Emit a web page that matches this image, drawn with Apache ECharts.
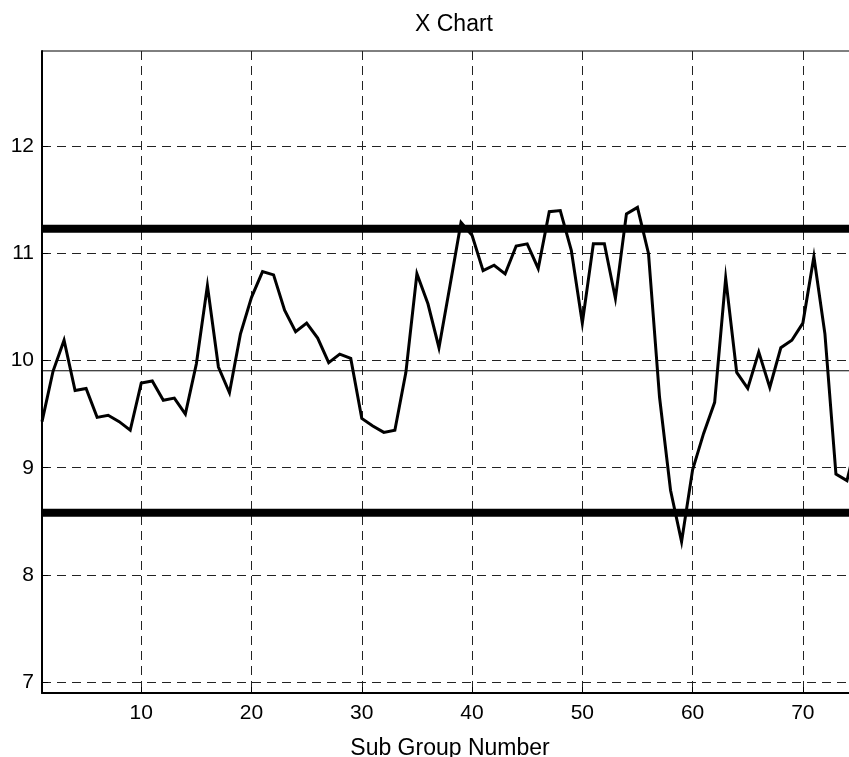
<!DOCTYPE html>
<html>
<head>
<meta charset="utf-8">
<title>X Chart</title>
<script src="https://cdn.jsdelivr.net/npm/echarts@6/dist/echarts.min.js"></script>
<style>
  html, body { margin: 0; padding: 0; background: #fff; }
  #chart { width: 849px; height: 757px; }
</style>
</head>
<body>
<div id="chart"></div>
<script>
// Subgroup means for the X-bar control chart
const xbar = [
  9.43, 9.90, 10.19, 9.72, 9.74, 9.47, 9.49, 9.43, 9.35, 9.79,
  9.81, 9.63, 9.65, 9.50, 9.97, 10.70, 9.94, 9.70, 10.25, 10.59,
  10.83, 10.80, 10.47, 10.27, 10.35, 10.21, 9.98, 10.06, 10.02, 9.46,
  9.39, 9.33, 9.35, 9.89, 10.81, 10.53, 10.12, 10.70, 11.29, 11.17,
  10.84, 10.89, 10.81, 11.07, 11.09, 10.86, 11.39, 11.40, 11.03, 10.35,
  11.09, 11.09, 10.58, 11.37, 11.43, 11.00, 9.66, 8.79, 8.31, 8.98,
  9.32, 9.61, 10.77, 9.89, 9.74, 10.08, 9.75, 10.12, 10.19, 10.35,
  10.97, 10.25, 8.94, 8.88, 9.30
];
const subgroup = xbar.map((_, i) => i + 1);

// Control limits
const centerLine = 9.905;
const upperLimit = 11.23;
const lowerLimit = 8.58;

// Axis ticks
const xTicks = [10, 20, 30, 40, 50, 60, 70];
const yTicks = [7, 8, 9, 10, 11, 12];

const xMin = 1, xMax = 75;
const yMin = 6.897, yMax = 12.89;

const font = "'Liberation Sans', Arial, Helvetica, sans-serif";

const chart = echarts.init(document.getElementById('chart'), null, { renderer: 'canvas' });

const gridDash = { type: [9, 6], color: '#222', width: 1 };

chart.setOption({
  animation: false,
  backgroundColor: '#fff',
  title: {
    text: 'X Chart',
    left: 410,
    top: 8,
    textStyle: { fontFamily: font, fontSize: 23, fontWeight: 'normal', color: '#000' }
  },
  grid: {
    left: 42,
    top: 51,
    width: 816,
    height: 642,
    outerBoundsMode: 'none',
    containLabel: false,
    show: true,
    borderColor: '#000',
    borderWidth: 1,
    backgroundColor: 'transparent'
  },
  xAxis: {
    type: 'value',
    min: xMin,
    max: xMax,
    name: 'Sub Group Number',
    nameLocation: 'middle',
    nameGap: 44,
    nameTextStyle: { fontFamily: font, fontSize: 23, color: '#000' },
    axisLine: { show: true, onZero: false, lineStyle: { color: '#000', width: 2 } },
    axisTick: { show: true, inside: true, length: 6, customValues: xTicks, lineStyle: { color: '#000' } },
    axisLabel: { customValues: xTicks, fontFamily: font, fontSize: 21, color: '#000', margin: 10 },
    splitLine: { show: true, lineStyle: gridDash }
  },
  yAxis: {
    type: 'value',
    min: yMin,
    max: yMax,
    axisLine: { show: true, onZero: false, lineStyle: { color: '#000', width: 2 } },
    axisTick: { show: true, inside: true, length: 6, customValues: yTicks, lineStyle: { color: '#000' } },
    axisLabel: { customValues: yTicks, fontFamily: font, fontSize: 21, color: '#000', margin: 8 },
    splitLine: { show: true, lineStyle: gridDash }
  },
  series: [
    {
      name: 'UCL',
      type: 'line',
      data: [[xMin, upperLimit], [xMax, upperLimit]],
      symbol: 'none',
      lineStyle: { color: '#000', width: 8 },
      z: 3
    },
    {
      name: 'LCL',
      type: 'line',
      data: [[xMin, lowerLimit], [xMax, lowerLimit]],
      symbol: 'none',
      lineStyle: { color: '#000', width: 8 },
      z: 3
    },
    {
      name: 'CL',
      type: 'line',
      data: [[xMin, centerLine], [xMax, centerLine]],
      symbol: 'none',
      lineStyle: { color: '#000', width: 1 },
      z: 3
    },
    {
      name: 'X-bar',
      type: 'line',
      data: subgroup.map((s, i) => [s, xbar[i]]),
      symbol: 'none',
      lineStyle: { color: '#000', width: 3, join: 'miter' },
      z: 4
    }
  ]
});
</script>
</body>
</html>
